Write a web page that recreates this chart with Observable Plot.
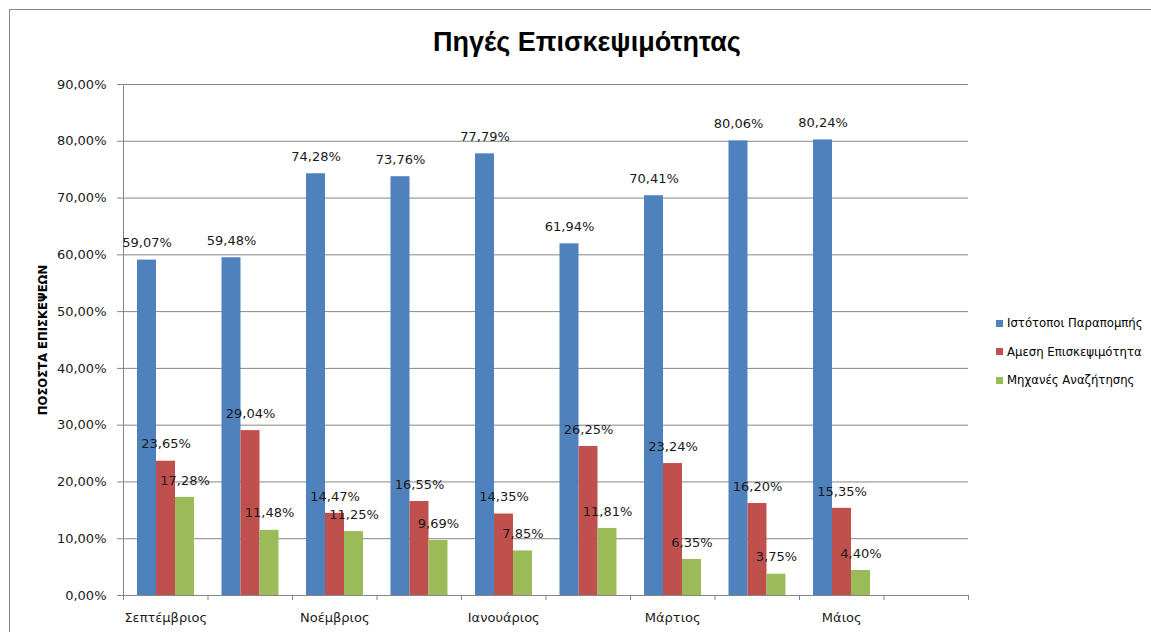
<!DOCTYPE html>
<html>
<head>
<meta charset="utf-8">
<script src="https://cdn.jsdelivr.net/npm/d3@7"></script>
<script src="https://cdn.jsdelivr.net/npm/@observablehq/plot@0.6"></script>
<style>
  html, body { margin: 0; padding: 0; background: #fff; overflow: hidden; }
  #wrap { position: relative; width: 1151px; height: 632px; overflow: hidden; }
  #border { position: absolute; left: 9px; top: 9px; width: 1300px; height: 800px; border: 1px solid #8a8a8a; box-sizing: border-box; }
  #title { position: absolute; left: 0; width: 1174px; top: 27px; text-align: center; font-family: "Liberation Sans Narrow", "Liberation Sans", sans-serif; font-weight: bold; font-size: 27px; color: #000; white-space: nowrap; }
  #chart { position: absolute; left: 0; top: 0; }
  #legend { position: absolute; left: 996px; top: 309px; font-family: "DejaVu Sans", sans-serif; font-size: 11.7px; color: #000; }
  #legend .item { height: 28.5px; display: flex; align-items: center; white-space: nowrap; margin-top: 0; }
  #legend .sw { width: 7px; height: 7px; margin-right: 4px; }
</style>
</head>
<body>
<div id="wrap">
  <div id="border"></div>
  <div id="chart"></div>
  <div id="title"></div>
  <div id="legend"></div>
</div>
<script>
const title = "Πηγές Επισκεψιμότητας";
const yTitle = "ΠΟΣΟΣΤΑ ΕΠΙΣΚΕΨΕΩΝ";
const months = ["Σεπτέμβριος", "Οκτώβριος", "Νοέμβριος", "Δεκέμβριος", "Ιανουάριος", "Φεβρουάριος", "Μάρτιος", "Απρίλιος", "Μάιος", ""];
const seriesNames = ["Ιστότοποι Παραπομπής", "Αμεση Επισκεψιμότητα", "Μηχανές Αναζήτησης"];
const colors = ["#4F81BD", "#C0504D", "#9BBB59"];
const referral = [59.07, 59.48, 74.28, 73.76, 77.79, 61.94, 70.41, 80.06, 80.24];
const direct   = [23.65, 29.04, 14.47, 16.55, 14.35, 26.25, 23.24, 16.20, 15.35];
const search   = [17.28, 11.48, 11.25, 9.69, 7.85, 11.81, 6.35, 3.75, 4.40];
const yTicks = [0, 10, 20, 30, 40, 50, 60, 70, 80, 90];

// layout of a group inside one category slot (fractions of the slot)
const groupPad = 14 / 84.5;
const barW = 19 / 84.5;

const seriesValues = [referral, direct, search];
const table = [];
months.forEach((m, i) => {
  seriesValues.forEach((vals, s) => {
    if (vals[i] === undefined) return;
    const x1 = i + groupPad + s * barW;
    table.push({month: m, series: seriesNames[s], value: vals[i], x1, x2: x1 + barW});
  });
});

const pct = v => d3.format(".2f")(v).replace(".", ",") + "%";
const gray = "#868686";
const slotEdges = months.map((m, i) => i).concat([months.length]);
const labelTicks = months.map((m, i) => i + 0.5).filter((d, i) => i % 2 === 0 && months[i] !== "");

const chart = Plot.plot({
  width: 1151,
  height: 632,
  marginTop: 84,
  marginBottom: 37,
  marginLeft: 123,
  marginRight: 183,
  x: {domain: [0, months.length], axis: null},
  y: {domain: [0, 90], axis: null},
  color: {domain: seriesNames, range: colors},
  style: {fontFamily: "DejaVu Sans, sans-serif", fontSize: "13px", background: "transparent", color: "#000"},
  marks: [
    Plot.gridY(yTicks, {stroke: gray, strokeOpacity: 1}),
    Plot.axisY(yTicks, {tickSize: 6, tickPadding: 11, stroke: gray, fill: "#1a1a1a", tickFormat: pct, label: null}),
    Plot.rectY(table, {x1: "x1", x2: "x2", y: "value", fill: "series"}),
    Plot.ruleX([0], {stroke: gray}),
    Plot.ruleY([0], {stroke: gray}),
    Plot.axisX(slotEdges, {tickSize: 5, stroke: gray, tickFormat: () => "", label: null}),
    Plot.axisX(labelTicks, {tickSize: 0, tickPadding: 17, fill: "#1a1a1a", tickFormat: d => months[d - 0.5], label: null}),
    Plot.text(table, {x: d => (d.x1 + d.x2) / 2, y: "value", dy: -17, text: d => pct(d.value), fill: "#1a1a1a", fontSize: 13}),
    Plot.text([yTitle], {frameAnchor: "left", textAnchor: "middle", dx: -80, rotate: -90, fontWeight: "bold", fontSize: 11.6, fill: "#000"})
  ]
});
document.getElementById("chart").appendChild(chart);
document.getElementById("title").textContent = title;

const legend = document.getElementById("legend");
seriesNames.forEach((n, i) => {
  const it = document.createElement("div");
  it.className = "item";
  const sw = document.createElement("div");
  sw.className = "sw";
  sw.style.background = colors[i];
  const t = document.createElement("span");
  t.textContent = n;
  it.appendChild(sw); it.appendChild(t);
  legend.appendChild(it);
});
</script>
</body>
</html>
